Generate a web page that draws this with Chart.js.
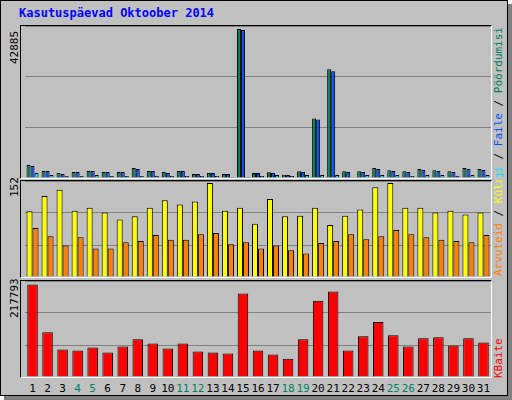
<!DOCTYPE html>
<html lang="et">
<head>
<meta charset="UTF-8">
<title>Kasutuspäevad Oktoober 2014</title>
<script src="https://cdn.jsdelivr.net/npm/chart.js"></script>
<style>
  body { margin: 0; background: #fff; font-family: "DejaVu Sans Mono", monospace; }
  #frame { position: absolute; left: 0; top: 0; width: 506px; height: 394px; background: #c0c0c0;
           border: 1px solid #000; box-shadow: 4px 4px 0 #808080; }
  #title { position: absolute; left: 19px; top: 6px; color: #0000ff; font-weight: bold; font-size: 12px; }
  .panel { position: absolute; left: 20px; width: 470px; border: 1px solid #000; border-color: #000 #fff #fff #000; }
  .panel canvas { display: block; }
  .vlab { position: absolute; white-space: pre; font-size: 11px; transform-origin: 0 0; transform: rotate(-90deg); }
  .endtop { display: flex; justify-content: flex-end; overflow: hidden; }
  .day { position: absolute; top: 382px; font-size: 11px; transform: translateX(-50%); }
</style>
</head>
<body>
<div id="frame"></div>
<div id="title">Kasutuspäevad Oktoober 2014</div>

<div class="panel" style="top:25px;height:152px"><canvas id="c1"></canvas></div>
<div class="panel" style="top:180px;height:96px"><canvas id="c2"></canvas></div>
<div class="panel" style="top:280px;height:96px"><canvas id="c3"></canvas></div>

<div class="vlab" style="left:8px;top:64px">42885</div>
<div class="vlab" style="left:8px;top:197px">152</div>
<div class="vlab" style="left:8px;top:318px">217793</div>

<div class="vlab endtop" style="left:492px;top:177px;width:150px"><span style="flex:none"><span style="color:#00e0ff">Lehekülgi</span> / <span style="color:#0050ff">Faile</span> / <span style="color:#008060">Pöördumisi</span></span></div>
<div class="vlab" style="left:492px;top:276px;width:96px;overflow:hidden"><span style="color:#ff8000">Arvuteid</span> / <span style="color:#ffff00">Külastusi</span></div>
<div class="vlab" style="left:492px;top:378px;color:#ff0000">KBaite</div>

<div id="days"></div>

<script>
const days = ['1','2','3','4','5','6','7','8','9','10','11','12','13','14','15','16','17','18','19','20','21','22','23','24','25','26','27','28','29','30','31'];
const weekend = ['4','5','11','12','18','19','25','26'];

// top panel
const hits  = [3770,2030,1450,1740,2030,1740,1740,2900,2030,1740,2030,1160,1450,1160,42885,1450,1650,960,1940,17110,31320,1940,1940,2900,2230,1940,2610,2230,1940,2900,2610];
const files = [3480,2030,1160,1740,2030,1740,1740,2610,2030,1450,2030,1160,1450,1160,42600,1450,1450,870,1740,16820,30740,1740,1740,2610,2030,1740,2320,2030,1740,2610,2320];
const pages = [1450,870,580,580,870,580,580,580,580,580,580,580,580,290,290,580,870,580,870,870,870,100,870,870,870,580,870,870,580,870,870];

// middle panel
const visits  = [106,131,141,107,112,104,93,98,112,124,117,122,152,107,112,86,126,98,99,112,84,99,109,145,152,112,112,104,107,101,104];
const uniques = [79,66,51,64,46,46,56,58,68,60,60,69,71,53,56,46,51,43,38,55,58,69,61,66,76,69,64,60,58,56,68];

// bottom panel
const kbytes = [210100,101600,62300,60000,67000,55400,69300,85400,76200,64600,76200,57700,55400,53100,189300,60000,50800,41600,85400,173200,193900,60000,92400,124700,94700,69300,87700,90000,71600,87700,78500];

function panel(id, max, sets, catPct) {
  return new Chart(document.getElementById(id), {
    type: 'bar',
    data: {
      labels: days,
      datasets: sets.map(s => ({
        data: s.data, backgroundColor: s.color, borderColor: '#000', borderWidth: 1,
        barPercentage: 1, categoryPercentage: catPct
      }))
    },
    options: {
      responsive: true, maintainAspectRatio: false, animation: false,
      layout: { padding: { left: 4, right: 0, top: 0, bottom: 0 } },
      plugins: { legend: { display: false }, tooltip: { enabled: false } },
      scales: {
        x: { display: false },
        y: { min: 0, max: max, ticks: { display: false, stepSize: max / 3 },
             grid: { color: '#808080', lineWidth: 1, drawTicks: false }, border: { display: false } }
      }
    }
  });
}

panel('c1', 42885 * 1.02, [
  { data: hits, color: '#008060' },
  { data: files, color: '#0050ff' },
  { data: pages, color: '#00e0ff' }
], 0.8);
panel('c2', 152 * 1.02, [
  { data: visits, color: '#ffff00' },
  { data: uniques, color: '#ff8000' }
], 0.8);
const c3 = panel('c3', 217793, [
  { data: kbytes, color: '#ff0000' }
], 0.7);

const box = document.getElementById('days');
days.forEach((d, i) => {
  const el = document.createElement('div');
  el.className = 'day';
  el.textContent = d;
  el.style.left = (21 + c3.scales.x.getPixelForValue(i)) + 'px';
  el.style.color = weekend.includes(d) ? '#008060' : '#000';
  box.appendChild(el);
});
</script>
</body>
</html>
